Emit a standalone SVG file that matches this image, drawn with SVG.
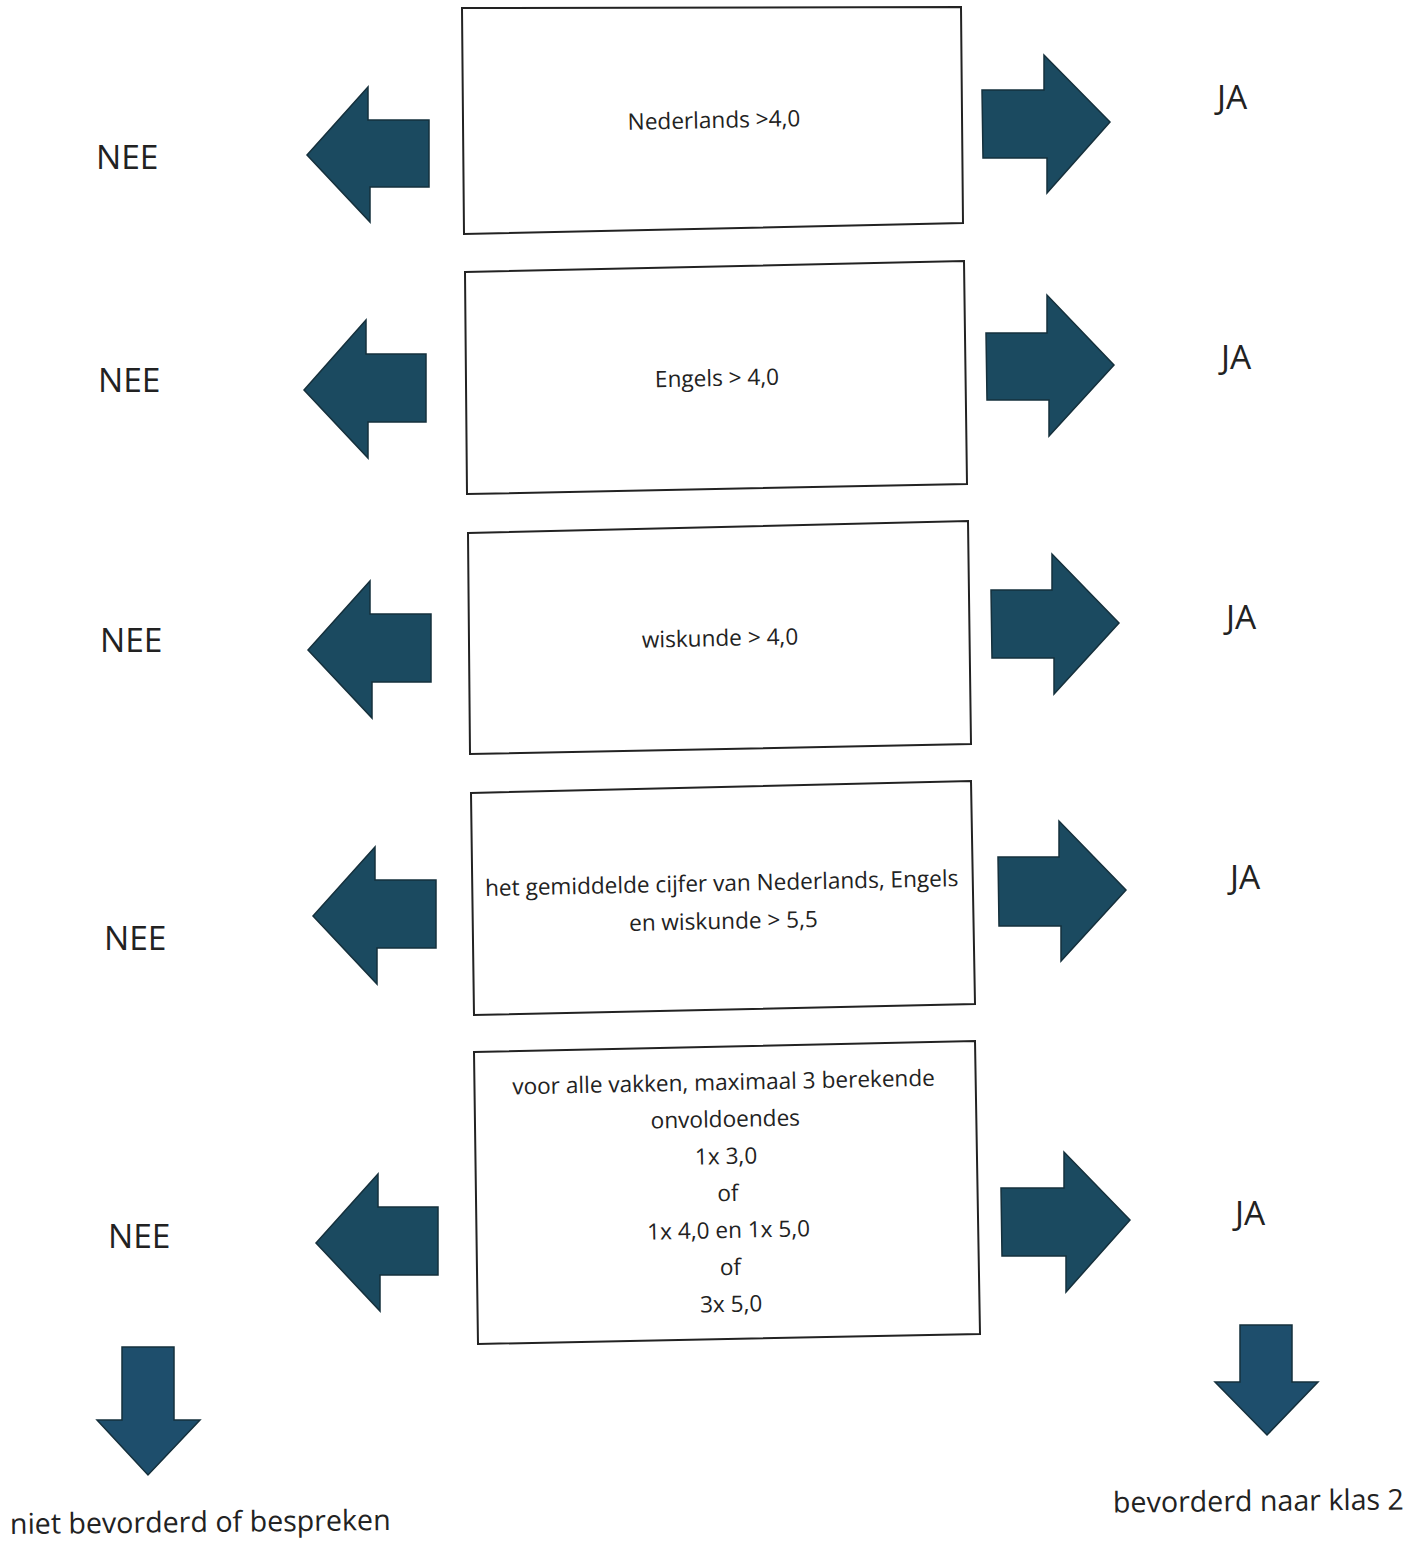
<svg xmlns="http://www.w3.org/2000/svg" width="1424" height="1542" viewBox="0 0 1424 1542">
<style>
.box{fill:#fff;stroke:#222;stroke-width:2}
.arr{fill:#1b4a60;stroke:#15303c;stroke-width:1.5}
.dn{fill:#1e4e6c;stroke:#15303c;stroke-width:1.5}
.t{font-family:"Open Sans","Noto Sans",sans-serif;font-size:22.6px;fill:#222;text-anchor:middle}
.lbl{font-family:"Open Sans","Noto Sans",sans-serif;font-size:33.5px;fill:#222}
.bot{font-family:"Open Sans","Noto Sans",sans-serif;font-size:28.6px;fill:#222}
</style>
<rect width="1424" height="1542" fill="#fff"/>
<g id="box1"><polygon class="box" points="462,8 961,7 963,223 464,234"/><text class="t" x="714" y="128" transform="rotate(-1.2 714 120)">Nederlands &gt;4,0</text></g>
<g id="box2"><polygon class="box" points="465,272 964,261 967,484 467,494"/><text class="t" x="717" y="386" transform="rotate(-1.2 717 378)">Engels &gt; 4,0</text></g>
<g id="box3"><polygon class="box" points="468,533 968,521 971,744 470,754"/><text class="t" x="720" y="646" transform="rotate(-1.2 720 638)">wiskunde &gt; 4,0</text></g>
<g id="box4"><polygon class="box" points="471,793 971,781 975,1004 474,1015"/><g transform="rotate(-1.2 722 900)"><text class="t" x="722" y="891">het gemiddelde cijfer van Nederlands, Engels</text><text class="t" x="723" y="929">en wiskunde &gt; 5,5</text></g></g>
<g id="box5"><polygon class="box" points="474,1052 975,1041 980,1334 478,1344"/><g transform="rotate(-1.2 727 1200)"><text class="t" x="726" y="1090">voor alle vakken, maximaal 3 berekende</text><text class="t" x="727" y="1127">onvoldoendes</text><text class="t" x="727" y="1164">1x 3,0</text><text class="t" x="728" y="1201">of</text><text class="t" x="728" y="1238">1x 4,0 en 1x 5,0</text><text class="t" x="729" y="1275">of</text><text class="t" x="729" y="1312">3x 5,0</text></g></g>
<g id="nee-labels">
<text class="lbl" x="96" y="169">NEE</text>
<text class="lbl" x="98" y="392">NEE</text>
<text class="lbl" x="100" y="652">NEE</text>
<text class="lbl" x="104" y="950">NEE</text>
<text class="lbl" x="108" y="1248">NEE</text>
</g>
<g id="ja-labels">
<text class="lbl" x="1217" y="109">JA</text>
<text class="lbl" x="1221" y="369">JA</text>
<text class="lbl" x="1226" y="629">JA</text>
<text class="lbl" x="1230" y="889">JA</text>
<text class="lbl" x="1235" y="1225">JA</text>
</g>
<g id="connectors">
<polygon class="arr" points="307,155 368,87 368,120 429,120 429,187 370,187 370,222"/>
<polygon class="arr" points="304,390 366,320 366,354 426,354 426,422 368,422 368,458"/>
<polygon class="arr" points="308,650 370,581 370,614 431,614 431,682 372,682 372,718"/>
<polygon class="arr" points="313,916 375,847 375,880 436,880 436,948 377,948 377,984"/>
<polygon class="arr" points="316,1243 378,1174 378,1207 438,1207 438,1275 380,1275 380,1311"/>
<polygon class="arr" points="982,90 1044,90 1044,55 1110,122 1047,193 1047,158 983,158"/>
<polygon class="arr" points="986,333 1047,333 1047,295 1114,365 1049,436 1049,400 987,400"/>
<polygon class="arr" points="991,590 1052,590 1052,554 1119,623 1054,694 1054,658 992,658"/>
<polygon class="arr" points="998,857 1059,857 1059,821 1126,890 1061,961 1061,926 999,926"/>
<polygon class="arr" points="1001,1188 1064,1188 1064,1152 1130,1220 1066,1292 1066,1256 1002,1256"/>
<polygon class="dn" points="122,1347 174,1347 174,1420 200,1420 148,1475 97,1420 122,1420"/>
<polygon class="dn" points="1240,1325 1292,1325 1292,1382 1318,1382 1267,1435 1215,1382 1240,1382"/>
</g>
<g id="outcomes">
<text class="bot" x="10" y="1532" transform="rotate(-0.6 200 1522)">niet bevorderd of bespreken</text>
<text class="bot" x="1113" y="1511" transform="rotate(-0.6 1258 1500)">bevorderd naar klas 2</text>
</g>
</svg>
